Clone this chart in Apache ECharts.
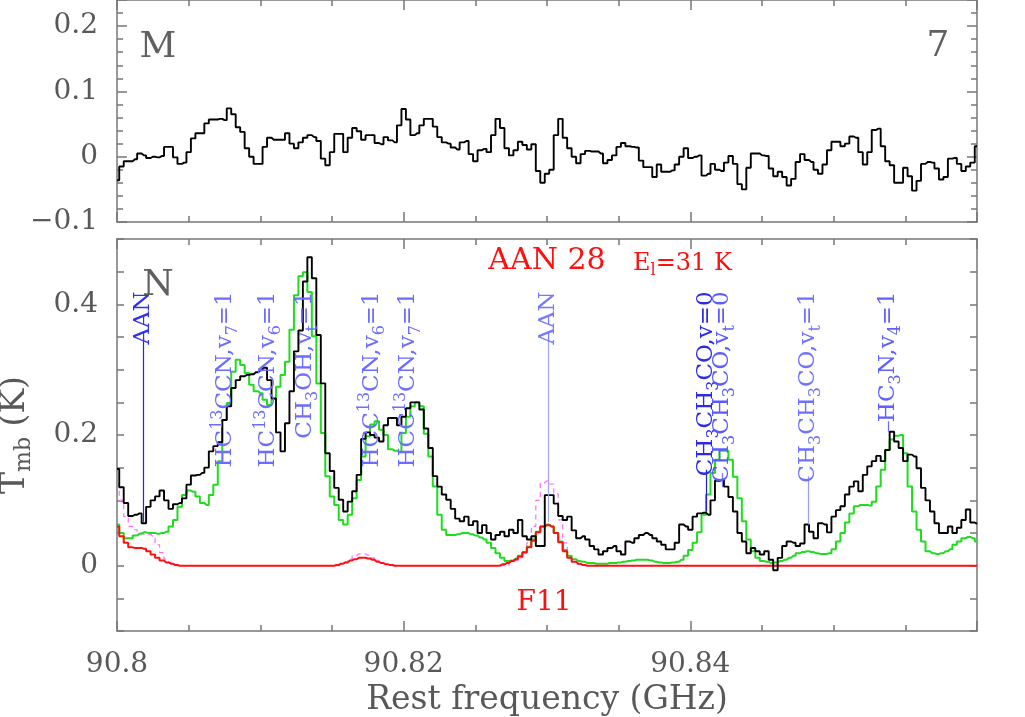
<!DOCTYPE html>
<html>
<head>
<meta charset="utf-8">
<title>AAN 28 - Sgr B2(M) / Sgr B2(N)</title>
<script src="https://cdn.jsdelivr.net/npm/echarts@6/dist/echarts.min.js"></script>
<style>
  html, body { margin: 0; padding: 0; background: #fff; }
  #chart { width: 1025px; height: 717px; }
</style>
</head>
<body>
<div id="chart"></div>
<script>
// channel grid of the spectra (GHz)
const freqStart = 90.8
const chanWidth = 0.0003125

// Sgr B2(M), top panel (K)
const specM = [
  -0.036, -0.015, -0.007, -0.007, -0.004, 0.005, 0.002, -0.002, 0.000, -0.001,
  0.001, 0.015, 0.015, -0.001, -0.011, -0.009, 0.007, 0.028, 0.036, 0.036,
  0.051, 0.057, 0.057, 0.058, 0.056, 0.074, 0.065, 0.045, 0.038, 0.013,
  0.000, -0.011, -0.011, 0.015, 0.029, 0.026, 0.026, 0.026, 0.036, 0.020,
  0.013, 0.022, 0.029, 0.033, 0.030, 0.024, -0.003, -0.013, 0.007, 0.035,
  0.035, 0.007, 0.029, 0.044, 0.039, 0.026, 0.033, 0.033, 0.021, 0.019,
  0.030, 0.025, 0.022, 0.048, 0.073, 0.057, 0.033, 0.036, 0.048, 0.058,
  0.058, 0.046, 0.030, 0.022, 0.020, 0.014, 0.011, 0.022, 0.024, 0.004,
  -0.007, 0.010, 0.012, 0.007, 0.033, 0.058, 0.044, 0.013, 0.002, 0.010,
  0.023, 0.018, 0.011, 0.019, -0.022, -0.040, -0.026, -0.020, 0.033, 0.058,
  0.029, 0.013, 0.000, -0.010, 0.004, 0.009, 0.008, 0.008, 0.005, -0.010,
  -0.005, 0.002, 0.015, 0.021, 0.016, 0.015, 0.014, -0.006, -0.016, -0.016,
  -0.031, -0.012, -0.023, -0.023, -0.021, -0.012, 0.000, 0.013, -0.002, 0.000,
  0.002, -0.029, -0.026, -0.011, -0.020, -0.022, -0.009, 0.001, -0.011, -0.042,
  -0.050, -0.017, 0.005, 0.005, 0.002, 0.001, -0.018, -0.030, -0.023, -0.031,
  -0.044, -0.034, -0.008, 0.004, -0.005, -0.008, -0.020, -0.026, -0.012, 0.010,
  0.023, 0.023, 0.016, 0.020, 0.031, 0.029, 0.007, -0.012, 0.007, 0.041,
  0.043, 0.016, -0.007, -0.013, -0.040, -0.040, -0.017, -0.030, -0.052, -0.037,
  -0.011, -0.008, -0.009, -0.018, -0.035, -0.031, -0.003, -0.002, -0.011, -0.022,
  -0.015, -0.009, 0.016
]

// Sgr B2(N), bottom panel, observed (K)
const specN = [
  0.148, 0.120, 0.096, 0.076, 0.078, 0.080, 0.065, 0.090, 0.100, 0.106,
  0.115, 0.100, 0.087, 0.094, 0.096, 0.103, 0.124, 0.138, 0.139, 0.142,
  0.150, 0.175, 0.183, 0.189, 0.223, 0.244, 0.272, 0.284, 0.290, 0.292,
  0.293, 0.296, 0.299, 0.303, 0.284, 0.256, 0.204, 0.175, 0.218, 0.267,
  0.328, 0.360, 0.435, 0.472, 0.440, 0.353, 0.279, 0.172, 0.145, 0.119,
  0.101, 0.083, 0.098, 0.114, 0.139, 0.194, 0.204, 0.200, 0.196, 0.190,
  0.215, 0.226, 0.226, 0.215, 0.228, 0.241, 0.250, 0.250, 0.239, 0.210,
  0.180, 0.137, 0.121, 0.109, 0.101, 0.087, 0.072, 0.068, 0.075, 0.062,
  0.068, 0.050, 0.062, 0.050, 0.040, 0.047, 0.052, 0.045, 0.055, 0.050,
  0.070, 0.045, 0.040, 0.045, 0.030, 0.030, 0.108, 0.108, 0.095, 0.076,
  0.070, 0.075, 0.054, 0.042, 0.045, 0.040, 0.030, 0.025, 0.017, 0.022,
  0.027, 0.030, 0.022, 0.017, 0.037, 0.035, 0.042, 0.047, 0.050, 0.047,
  0.042, 0.037, 0.032, 0.025, 0.025, 0.035, 0.063, 0.060, 0.055, 0.075,
  0.080, 0.081, 0.078, 0.100, 0.130, 0.131, 0.121, 0.105, 0.083, 0.050,
  0.037, 0.019, 0.027, 0.022, 0.017, 0.022, 0.009, -0.007, 0.012, 0.030,
  0.037, 0.035, 0.030, 0.034, 0.063, 0.052, 0.042, 0.065, 0.063, 0.051,
  0.075, 0.085, 0.091, 0.109, 0.121, 0.129, 0.114, 0.139, 0.152, 0.160,
  0.168, 0.160, 0.177, 0.205, 0.190, 0.180, 0.160, 0.170, 0.167, 0.149,
  0.119, 0.100, 0.083, 0.065, 0.050, 0.050, 0.060, 0.050, 0.058, 0.070,
  0.086, 0.066, 0.064
]

// model with all species (green)
const modelAll = [
  0.063, 0.050, 0.042, 0.042, 0.046, 0.049, 0.051, 0.050, 0.050, 0.049,
  0.050, 0.052, 0.060, 0.070, 0.090, 0.108, 0.115, 0.113, 0.106, 0.096,
  0.093, 0.108, 0.124, 0.160, 0.223, 0.249, 0.297, 0.315, 0.307, 0.295,
  0.277, 0.267, 0.264, 0.254, 0.246, 0.255, 0.274, 0.292, 0.312, 0.361,
  0.414, 0.443, 0.449, 0.419, 0.351, 0.279, 0.203, 0.137, 0.106, 0.093,
  0.070, 0.063, 0.078, 0.103, 0.131, 0.167, 0.198, 0.216, 0.221, 0.208,
  0.200, 0.178, 0.176, 0.174, 0.203, 0.228, 0.244, 0.250, 0.244, 0.202,
  0.167, 0.121, 0.078, 0.055, 0.047, 0.047, 0.048, 0.050, 0.050, 0.048,
  0.046, 0.043, 0.040, 0.035, 0.027, 0.019, 0.012, 0.007, 0.008, 0.011,
  0.015, 0.021, 0.029, 0.040, 0.052, 0.060, 0.063, 0.060, 0.050, 0.037,
  0.024, 0.015, 0.010, 0.007, 0.006, 0.004, 0.004, 0.003, 0.003, 0.003,
  0.004, 0.004, 0.005, 0.006, 0.007, 0.008, 0.009, 0.009, 0.009, 0.008,
  0.006, 0.005, 0.004, 0.004, 0.005, 0.006, 0.009, 0.015, 0.024, 0.035,
  0.051, 0.078, 0.109, 0.142, 0.162, 0.176, 0.176, 0.162, 0.136, 0.103,
  0.068, 0.040, 0.022, 0.012, 0.007, 0.006, 0.004, 0.005, 0.007, 0.009,
  0.012, 0.015, 0.019, 0.021, 0.022, 0.021, 0.019, 0.018, 0.018, 0.019,
  0.025, 0.037, 0.050, 0.066, 0.080, 0.091, 0.093, 0.093, 0.092, 0.098,
  0.121, 0.147, 0.177, 0.193, 0.199, 0.200, 0.172, 0.121, 0.083, 0.055,
  0.037, 0.022, 0.019, 0.018, 0.019, 0.022, 0.025, 0.032, 0.037, 0.042,
  0.044, 0.042, 0.037
]

// AAN model (red)
const modelAAN = [
  0.060, 0.045, 0.035, 0.028, 0.027, 0.027, 0.026, 0.022, 0.017, 0.012,
  0.008, 0.005, 0.003, 0.001, 0, 0, 0, 0, 0, 0,
  0, 0, 0, 0, 0, 0, 0, 0, 0, 0,
  0, 0, 0, 0, 0, 0, 0, 0, 0, 0,
  0, 0, 0, 0, 0, 0, 0, 0, 0, 0.001,
  0.003, 0.005, 0.008, 0.010, 0.012, 0.012, 0.011, 0.009, 0.006, 0.004,
  0.002, 0.001, 0, 0, 0, 0, 0, 0, 0, 0,
  0, 0, 0, 0, 0, 0, 0, 0, 0, 0,
  0, 0, 0, 0, 0, 0, 0.002, 0.004, 0.007, 0.010,
  0.014, 0.020, 0.028, 0.038, 0.051, 0.060, 0.062, 0.060, 0.050, 0.036,
  0.022, 0.012, 0.006, 0.003, 0.001, 0, 0, 0, 0, 0,
  0, 0, 0, 0, 0, 0, 0, 0, 0, 0,
  0, 0, 0, 0, 0, 0, 0, 0, 0, 0,
  0, 0, 0, 0, 0, 0, 0, 0, 0, 0,
  0, 0, 0, 0, 0, 0, 0, 0, 0, 0,
  0, 0, 0, 0, 0, 0, 0, 0, 0, 0,
  0, 0, 0, 0, 0, 0, 0, 0, 0, 0,
  0, 0, 0, 0, 0, 0, 0, 0, 0, 0,
  0, 0, 0, 0, 0, 0, 0, 0, 0, 0,
  0, 0, 0
]

// second AAN model (magenta, dashed)
const modelAANdash = [
  0.125, 0.100, 0.075, 0.060, 0.055, 0.050, 0.048, 0.048, 0.045, 0.032,
  0.020, 0.010, 0.005, 0.002, 0, 0, 0, 0, 0, 0,
  0, 0, 0, 0, 0, 0, 0, 0, 0, 0,
  0, 0, 0, 0, 0, 0, 0, 0, 0, 0,
  0, 0, 0, 0, 0, 0, 0, 0, 0, 0,
  0.003, 0.006, 0.010, 0.015, 0.018, 0.018, 0.016, 0.012, 0.008, 0.004,
  0.002, 0, 0, 0, 0, 0, 0, 0, 0, 0,
  0, 0, 0, 0, 0, 0, 0, 0, 0, 0,
  0, 0, 0, 0, 0, 0, 0, 0, 0.005, 0.008,
  0.012, 0.020, 0.035, 0.060, 0.100, 0.127, 0.130, 0.125, 0.110, 0.070,
  0.035, 0.015, 0.006, 0.002, 0, 0, 0, 0, 0, 0,
  0, 0, 0, 0, 0, 0, 0, 0, 0, 0,
  0, 0, 0, 0, 0, 0, 0, 0, 0, 0,
  0, 0, 0, 0, 0, 0, 0, 0, 0, 0,
  0, 0, 0, 0, 0, 0, 0, 0, 0, 0,
  0, 0, 0, 0, 0, 0, 0, 0, 0, 0,
  0, 0, 0, 0, 0, 0, 0, 0, 0, 0,
  0, 0, 0, 0, 0, 0, 0, 0, 0, 0,
  0, 0, 0, 0, 0, 0, 0, 0, 0, 0,
  0, 0, 0
]

// line identifications (rich text) and their frequencies (GHz)
const lineNames = [
  'AAN',
  'HC{sup|13}CCN,v{sub|7}=1',
  'HC{sup|13}CCN,v{sub|6}=1',
  'CH{sub|3}OH,v{sub|t}=1',
  'HCC{sup|13}CN,v{sub|6}=1',
  'HCC{sup|13}CN,v{sub|7}=1',
  'AAN',
  'CH{sub|3}CH{sub|3}CO,v=0',
  'CH{sub|3}CH{sub|3}CO,v{sub|t}=0',
  'CH{sub|3}CH{sub|3}CO,v{sub|t}=1',
  'HC{sub|3}N,v{sub|4}=1'
]
const lineFreqs = [
  90.80185, 90.80753, 90.81053, 90.81312, 90.81779, 90.82030,
  90.83007, 90.84109, 90.84221, 90.84823, 90.85379
]

// where each marker stick runs (K) and its colours
const lineSticks = [
  [0.067, 0.349], null, null, null, null, null,
  [0.067, 0.349], [0.083, 0.147], [0.120, 0.142], [0.063, 0.137], [0.205, 0.221]
]
const stickColors = ['#2424f0', '', '', '', '', '', '#a4a4ff', '#2020d8', '#7a7aff', '#9a9aff', '#6a6aff']
const nameColors = ['#3030f5', '#6c6cff', '#6c6cff', '#6c6cff', '#6c6cff', '#6c6cff',
  '#7878ff', '#2a2ae8', '#5a5aff', '#7070ff', '#6060ff']
const labelTop = 0.42

const serif = '"DejaVu Serif", "Liberation Serif", serif'
const gray = '#585858'
const frameLine = { color: '#777', width: 1.5 }

function toXY (arr) {
  return arr.map((v, i) => [freqStart + i * chanWidth, v])
}

function numLabel (v) {
  return String(Math.round(v * 100) / 100).replace('-', '\u2212')
}

function xAxisCfg (gridIndex, position, withLabels) {
  const axis = {
    type: 'value',
    gridIndex: gridIndex,
    position: position,
    min: 90.8,
    max: 90.86,
    interval: 0.02,
    axisLine: { show: true, onZero: false, lineStyle: frameLine },
    axisTick: { show: true, inside: true, length: 10, lineStyle: frameLine },
    minorTick: { show: true, splitNumber: 4, length: 6, lineStyle: frameLine },
    splitLine: { show: false },
    minorSplitLine: { show: false },
    axisLabel: { show: false }
  }
  if (withLabels) {
    axis.axisLabel = {
      show: true,
      margin: 20,
      color: gray,
      fontFamily: serif,
      fontSize: 28,
      formatter: v => (v < 90.859 ? numLabel(v) : '')
    }
    axis.name = 'Rest frequency (GHz)'
    axis.nameLocation = 'middle'
    axis.nameGap = 50
    axis.nameTextStyle = { color: gray, fontFamily: serif, fontSize: 33, verticalAlign: 'top' }
  }
  return axis
}

function yAxisCfg (gridIndex, position, range, step, minor, tickLen, labelEvery) {
  const axis = {
    type: 'value',
    gridIndex: gridIndex,
    position: position,
    min: range[0],
    max: range[1],
    interval: step,
    axisLine: { show: true, onZero: false, lineStyle: frameLine },
    axisTick: { show: true, inside: true, length: tickLen, lineStyle: frameLine },
    minorTick: { show: minor > 0, splitNumber: minor || 2, length: 6, lineStyle: frameLine },
    splitLine: { show: false },
    minorSplitLine: { show: false },
    axisLabel: { show: false }
  }
  if (labelEvery) {
    axis.axisLabel = {
      show: true,
      margin: 19,
      color: gray,
      fontFamily: serif,
      fontSize: 28,
      formatter: v => {
        const r = Math.round(v * 100)
        if (r % labelEvery !== 0 || v > range[1] - 0.001) return ''
        return numLabel(v)
      }
    }
  }
  return axis
}

const yLeftN = yAxisCfg(1, 'left', [-0.1, 0.5], 0.05, 0, 7, 20)
yLeftN.name = 'T{sub|mb} (K)'
yLeftN.nameLocation = 'middle'
yLeftN.nameGap = 82
yLeftN.nameTextStyle = {
  color: gray,
  fontFamily: serif,
  fontSize: 33,
  lineHeight: 40,
  rich: {
    sub: { fontFamily: serif, fontSize: 22, lineHeight: 22, verticalAlign: 'bottom', color: gray }
  }
}

const chart = echarts.init(document.getElementById('chart'))

chart.setOption({
  animation: false,
  backgroundColor: '#fff',
  grid: [
    { left: 117, right: 48, top: 0, height: 222, outerBoundsMode: 'none' },
    { left: 117, right: 48, top: 239, height: 392, outerBoundsMode: 'none' }
  ],
  xAxis: [
    xAxisCfg(0, 'bottom', false),
    xAxisCfg(0, 'top', false),
    xAxisCfg(1, 'bottom', true),
    xAxisCfg(1, 'top', false)
  ],
  yAxis: [
    yAxisCfg(0, 'left', [-0.1, 0.24], 0.1, 5, 10, 10),
    yAxisCfg(0, 'right', [-0.1, 0.24], 0.1, 5, 10, 0),
    yLeftN,
    yAxisCfg(1, 'right', [-0.1, 0.5], 0.05, 0, 7, 0)
  ],
  series: [
    {
      type: 'line', xAxisIndex: 0, yAxisIndex: 0, data: toXY(specM),
      step: 'middle', symbol: 'none', silent: true,
      lineStyle: { color: '#000', width: 1.9 }
    },
    {
      type: 'line', xAxisIndex: 2, yAxisIndex: 2, data: toXY(modelAANdash),
      step: 'middle', symbol: 'none', silent: true,
      lineStyle: { color: '#ff6cff', width: 1.2, type: [5, 4] }
    },
    {
      type: 'line', xAxisIndex: 2, yAxisIndex: 2, data: toXY(modelAll),
      step: 'middle', symbol: 'none', silent: true,
      lineStyle: { color: '#1fdc1f', width: 2 }
    },
    {
      type: 'line', xAxisIndex: 2, yAxisIndex: 2, data: toXY(modelAAN),
      step: 'middle', symbol: 'none', silent: true,
      lineStyle: { color: '#ff1010', width: 2 }
    },
    {
      type: 'line', xAxisIndex: 2, yAxisIndex: 2, data: toXY(specN),
      step: 'middle', symbol: 'none', silent: true,
      lineStyle: { color: '#000', width: 1.9 },
      markLine: {
        silent: true,
        symbol: ['none', 'none'],
        label: { show: false },
        data: lineFreqs.map((f, i) => lineSticks[i] && [
          { coord: [f, lineSticks[i][0]], lineStyle: { color: stickColors[i], width: 1.2, type: 'solid' } },
          { coord: [f, lineSticks[i][1]] }
        ]).filter(Boolean)
      }
    }
  ]
})

// rotated line names, panel letters and the red transition labels
const subSup = {
  sup: { fontFamily: serif, fontSize: 16, lineHeight: 16, verticalAlign: 'top' },
  sub: { fontFamily: serif, fontSize: 16, lineHeight: 16, verticalAlign: 'bottom' }
}

const graphics = lineFreqs.map((f, i) => {
  const p = chart.convertToPixel({ xAxisIndex: 2, yAxisIndex: 2 }, [f, labelTop])
  return {
    type: 'text',
    x: p[0],
    y: p[1],
    rotation: Math.PI / 2,
    silent: true,
    z: 20,
    style: {
      text: lineNames[i],
      fill: nameColors[i],
      fontFamily: serif,
      fontSize: 23,
      lineHeight: 31,
      align: 'right',
      verticalAlign: 'middle',
      rich: subSup
    }
  }
})

function plainText (text, x, y, size, color, align, rich) {
  return {
    type: 'text', x: x, y: y, silent: true, z: 20,
    style: {
      text: text, fill: color, fontFamily: serif, fontSize: size,
      align: align, verticalAlign: 'middle', lineHeight: size + 6, rich: rich
    }
  }
}

graphics.push(plainText('M', 158, 48, 36, '#606060', 'center'))
graphics.push(plainText('7', 938, 47, 36, '#606060', 'center'))
graphics.push(plainText('N', 158, 286, 36, '#606060', 'center'))
graphics.push(plainText('AAN 28', 547, 261, 30, '#ff1010', 'center'))
graphics.push(plainText('E{s|l}=31 K', 633, 264, 24, '#ff1010', 'left', {
  s: { fontFamily: serif, fontSize: 16, lineHeight: 16, verticalAlign: 'bottom', fill: '#ff1010' }
}))
graphics.push(plainText('F11', 544, 603, 28, '#ff1010', 'center'))

chart.setOption({ graphic: graphics })
</script>
</body>
</html>
